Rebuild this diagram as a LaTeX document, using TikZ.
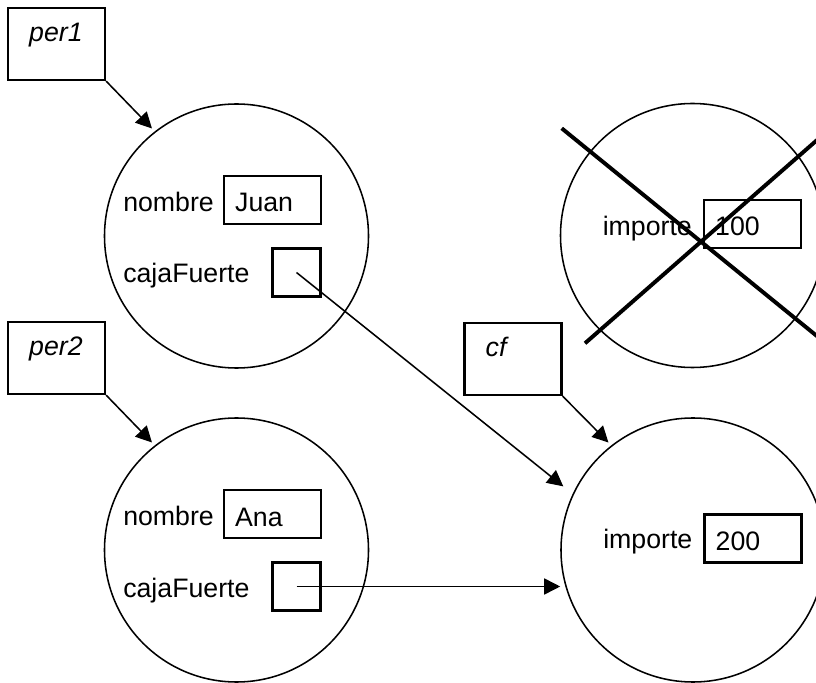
\documentclass[tikz,border=0pt]{standalone}
\usepackage{fontspec}
\setmainfont{Liberation Sans}
\usetikzlibrary{arrows.meta}

\begin{document}
\begin{tikzpicture}[
        objeto/.style={circle, draw, line width=1.1pt, minimum size=6.6cm, inner sep=0pt},
        varcaja/.style={rectangle, draw, line width=1.6pt, minimum height=1.8cm, minimum width=2.425cm},
        campo/.style={rectangle, draw, line width=1.6pt, minimum height=1.2cm, minimum width=2.425cm},
        puntero/.style={rectangle, draw, line width=1.6pt, minimum size=1.2cm},
        texto/.style={inner sep=0pt, anchor=base west, font=\fontsize{19pt}{22pt}\selectfont},
        flecha/.style={-{Triangle[length=0.4cm, width=0.4cm]}, line width=1.1pt},
        tachado/.style={line width=2.8pt}
    ]
            \clip (0,0) rectangle (20.4,17.05);

            \node[varcaja] (per1) at (1.4125,15.95) {};

            \node[texto, font=\fontsize{19pt}{22pt}\selectfont\itshape] (per1txt) at ([xshift=0.55cm, yshift=-0.875cm]per1.north west) {per1};

            \node[varcaja] (per2) at (1.4125,8.1) {};

            \node[texto, font=\fontsize{19pt}{22pt}\selectfont\itshape] (per2txt) at ([xshift=0.55cm, yshift=-0.875cm]per2.north west) {per2};

            \node[varcaja] (cfvar) at (12.825,8.075) {};

            \node[texto, font=\fontsize{19pt}{22pt}\selectfont\itshape] (cftxt) at ([xshift=0.55cm, yshift=-0.875cm]cfvar.north west) {cf};

            \node[objeto] (juan) at (5.9125,11.15) {};

            \node[texto] (nombre1) at ([xshift=-2.8375cm, yshift=0.6cm]juan.center) {nombre};

            \node[campo] (nombre1val) at ([xshift=0.9cm, yshift=0.9cm]juan.center) {};

            \node[texto] (juantxt) at ([xshift=0.3cm, yshift=-0.3cm]nombre1val.west) {Juan};

            \node[texto] (caja1) at ([xshift=-2.8375cm, yshift=-1.175cm]juan.center) {cajaFuerte};

            \node[puntero] (caja1val) at ([xshift=1.5cm, yshift=-0.9125cm]juan.center) {};

            \node[objeto] (ana) at (5.9125,3.3) {};

            \node[texto] (nombre2) at ([xshift=-2.8375cm, yshift=0.6cm]ana.center) {nombre};

            \node[campo] (nombre2val) at ([xshift=0.9cm, yshift=0.9cm]ana.center) {};

            \node[texto] (anatxt) at ([xshift=0.3cm, yshift=-0.3cm]nombre2val.west) {Ana};

            \node[texto] (caja2) at ([xshift=-2.8375cm, yshift=-1.175cm]ana.center) {cajaFuerte};

            \node[puntero] (caja2val) at ([xshift=1.5cm, yshift=-0.9125cm]ana.center) {};

            \node[objeto] (perdida) at (17.3125,11.1625) {};

            \node[texto] (importe1) at ([xshift=-2.25cm]perdida.center) {importe};

            \node[campo] (importe1val) at ([xshift=1.5cm, yshift=0.2875cm]perdida.center) {};

            \node[texto] (cientotxt) at ([xshift=0.3cm, yshift=-0.29cm]importe1val.west) {100};

            \node[objeto] (caja) at (17.325,3.3) {};

            \node[texto] (importe2) at ([xshift=-2.25cm, yshift=0.03cm]caja.center) {importe};

            \node[campo] (importe2val) at ([xshift=1.5cm, yshift=0.2875cm]caja.center) {};

            \node[texto] (doscientostxt) at ([xshift=0.3cm, yshift=-0.29cm]importe2val.west) {200};

            \draw[tachado] (14.0425,13.8425) -- (20.75,8.3825);
            \draw[tachado] (14.625,8.4675) -- (20.75,13.8325);

            \draw[flecha, shorten >=0.1cm] (per1.south east) -- (juan.128);
            \draw[flecha, shorten >=0.1cm] (per2.south east) -- (ana.128);
            \draw[flecha, shorten >=0.1cm] (cfvar.south east) -- (caja.128);
            \draw[flecha, shorten >=0.3cm] (caja1val.center) -- (caja.155);
            \draw[flecha] (caja2val.center) -- (caja2val.center -| caja.west);
        \end{tikzpicture}
\end{document}
